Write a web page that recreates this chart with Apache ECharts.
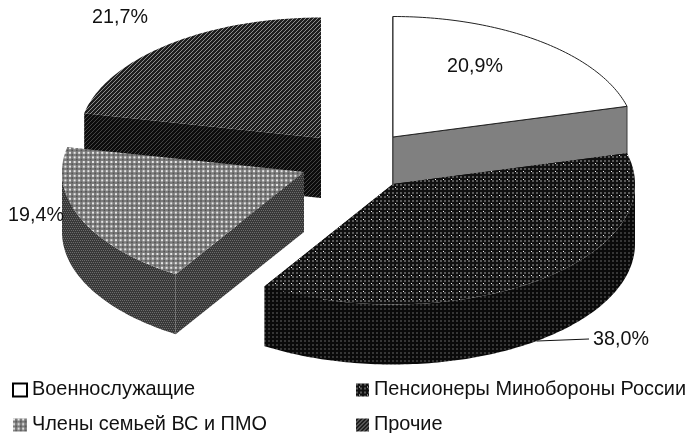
<!DOCTYPE html>
<html>
<head>
<meta charset="utf-8">
<style>html,body{margin:0;padding:0;background:#fff}#chart{width:692px;height:433px}</style>
<script src="https://cdn.jsdelivr.net/npm/echarts@6/dist/echarts.min.js"></script>
</head>
<body>
<div id="chart"></div>
<script>
// Shares of the pie, clockwise from the top
const categories = ['Военнослужащие', 'Пенсионеры Минобороны России', 'Члены семьей ВС и ПМО', 'Прочие'];
const shares = [20.9, 38.0, 19.4, 21.7];

// Projection of the pie: ellipse radii and wall height
const RX = 242, RY = 120.5, WALL = 60;
// Where each exploded slice has its centre and its percentage label
const centres = [[393, 137], [393, 184], [304, 172], [321, 138]];
const labelAnchors = [[475, 67], [621, 340], [36, 216], [120, 18]];
const FONT_SIZE = 19.7;
const LEGEND_FONT_SIZE = 19.9;
const FONT_FAMILY = '"Liberation Sans", Arial, sans-serif';
const FONT = FONT_SIZE + 'px ' + FONT_FAMILY;

// Small tiled bitmaps used for the hatched fills
function tile(w, h, base, paint) {
  const c = document.createElement('canvas');
  c.width = w; c.height = h;
  const g = c.getContext('2d');
  g.fillStyle = base; g.fillRect(0, 0, w, h);
  paint(g);
  return { image: c, repeat: 'repeat' };
}
function diagonal(base, light) {
  return tile(4, 4, base, g => {
    g.fillStyle = light;
    for (let i = 0; i < 4; i++) g.fillRect(i, 3 - i, 1, 1);
  });
}
const pensionTop = tile(8, 8, '#101010', g => {
  g.fillStyle = '#585858';
  [[0, 0], [4, 0], [0, 4], [4, 4]].forEach(p => g.fillRect(p[0], p[1], 2, 2));
  g.fillStyle = '#f4f4f4';
  g.fillRect(3, 3, 1, 1);
});
const pensionWall = tile(4, 4, '#0a0a0a', g => {
  g.fillStyle = '#363636';
  g.fillRect(0, 0, 2, 2);
});
const familyTop = tile(23, 23, '#7c7c7c', g => {
  for (let i = 0; i < 5; i++) for (let j = 0; j < 5; j++) {
    g.fillStyle = '#e6e6e6'; g.fillRect(i * 4.6, j * 4.6, 2, 2);
    g.fillStyle = '#555555'; g.fillRect(i * 4.6 + 2.4, j * 4.6 + 2.4, 1.6, 1.6);
  }
});
const familyWall = tile(4, 4, '#383838', g => {
  g.fillStyle = '#6a6a6a';
  g.fillRect(0, 0, 1, 1); g.fillRect(2, 0, 1, 1);
  g.fillRect(1, 2, 1, 1); g.fillRect(3, 2, 1, 1);
});
const otherTop = diagonal('#1e1e1e', '#8e8e8e');
const otherWall = diagonal('#0c0c0c', '#444444');

const topFills = ['#ffffff', pensionTop, familyTop, otherTop];
const wallFills = ['#808080', pensionWall, familyWall, otherWall];
const outlines = ['#222222', null, null, null];

function rim(c, deg, drop) {
  const a = deg * Math.PI / 180;
  return [c[0] + RX * Math.sin(a), c[1] - RY * Math.cos(a) + (drop || 0)];
}
function arc(c, from, to, drop) {
  const pts = [];
  const n = Math.max(1, Math.ceil(Math.abs(to - from)));
  for (let i = 0; i <= n; i++) pts.push(rim(c, from + (to - from) * i / n, drop));
  return pts;
}
function face(points, fill, stroke) {
  return {
    type: 'polygon',
    shape: { points },
    style: { fill, stroke: stroke || 'none', lineWidth: stroke ? 1 : 0 }
  };
}

// Each slice: cut faces, curved front wall, then the top surface and its label
function drawSlice(idx, params, api) {
  const value = api.value(0);
  const before = shares.slice(0, idx).reduce((s, v) => s + v, 0);
  const from = before * 3.6;
  const to = (before + value) * 3.6;
  const c = centres[idx];
  const fill = wallFills[idx];
  const stroke = outlines[idx] ? '#3a3a3a' : null;
  const children = [];
  [from, to].forEach(deg => {
    const p = rim(c, deg);
    children.push(face([c, p, [p[0], p[1] + WALL], [c[0], c[1] + WALL]], fill, stroke));
  });
  const wFrom = Math.max(from, 90), wTo = Math.min(to, 270);
  if (wTo > wFrom) {
    children.push(face(arc(c, wFrom, wTo, 0).concat(arc(c, wTo, wFrom, WALL)), fill, stroke));
  }
  children.push(face([c].concat(arc(c, from, to, 0)), topFills[idx], outlines[idx]));

  const anchor = labelAnchors[idx];
  if (idx === 1) {
    const start = rim(c, (from + to) / 2, WALL);
    children.push({
      type: 'line',
      shape: { x1: start[0], y1: start[1], x2: anchor[0] - 32, y2: anchor[1] - 1 },
      style: { stroke: '#111', lineWidth: 1 }
    });
  }
  children.push({
    type: 'text',
    style: {
      x: anchor[0], y: anchor[1],
      text: value.toFixed(1).replace('.', ',') + '%',
      font: FONT, fill: '#111', align: 'center', verticalAlign: 'middle'
    }
  });
  return { type: 'group', children };
}

// Rear slices are painted first so the front ones overlap them
const paintOrder = [3, 2, 0, 1];
const series = paintOrder.map(idx => ({
  type: 'custom',
  name: categories[idx],
  coordinateSystem: 'none',
  silent: true,
  animation: false,
  itemStyle: { color: '#000' },
  data: [[shares[idx]]],
  renderItem: (params, api) => drawSlice(idx, params, api)
}));

const legendText = { fontSize: LEGEND_FONT_SIZE, fontFamily: FONT_FAMILY, color: '#111' };
function legendColumn(left, width, names) {
  return {
    orient: 'vertical', left, top: 380, height: 90, itemGap: 15, itemWidth: width, itemHeight: 13,
    selectedMode: false, icon: 'rect', padding: 0, textStyle: legendText,
    data: names.map(i => ({
      name: categories[i],
      icon: 'rect',
      itemStyle: {
        color: topFills[i],
        borderColor: i === 0 ? '#000' : 'transparent',
        borderWidth: i === 0 ? 2 : 0
      }
    }))
  };
}

const chart = echarts.init(document.getElementById('chart'), null, { renderer: 'canvas' });
chart.setOption({
  backgroundColor: '#ffffff',
  animation: false,
  legend: [legendColumn(12, 14, [0, 2]), legendColumn(356, 13, [1, 3])],
  series
});
</script>
</body>
</html>
